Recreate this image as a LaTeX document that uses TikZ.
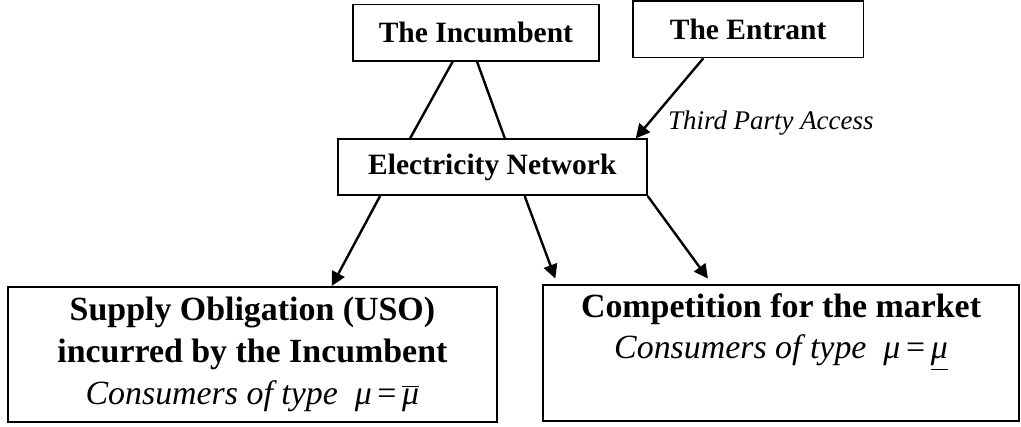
\documentclass[tikz,border=0pt]{standalone}
\usepackage{fontspec}
\setmainfont{Liberation Serif}
\usetikzlibrary{arrows.meta, positioning, calc}
\newcommand{\mutype}[1]{{\itshape μ}\,=\,#1}
\newcommand{\muhigh}{$\overline{\mbox{\itshape μ}}$}
\newcommand{\mulow}{\underline{\itshape μ}}
\tikzset{
  every picture/.style={line width=1.2pt},
  actor/.style={draw, line width=0.8pt, minimum height=0.99cm, inner sep=4pt, font=\fontsize{14.8}{17.8}\selectfont\bfseries},
  market/.style={draw, line width=1pt, minimum height=2.38cm, align=center, inner sep=4pt, font=\fontsize{17}{21}\selectfont},
  arrow/.style={-{Triangle[length=7pt, width=7pt]}, line width=1.2pt},
  link/.style={line width=1.2pt},
  note/.style={font=\fontsize{13.5}{16}\selectfont\itshape},
}

\begin{document}
\begin{tikzpicture}
  \useasboundingbox (0,0) rectangle (18,7.528);
  \node[actor, minimum width=4.34cm] (inc) at (8.39, 6.95) {The Incumbent};
  \node[actor, minimum width=4.06cm] (ent) at (13.19, 7.01) {The Entrant};
  \node[actor, minimum width=5.45cm] (net) at (8.68, 4.58) {Electricity Network};
  \node[note] (tpa) at (13.59, 5.36) {Third Party Access};
  \node[market, minimum width=8.62cm] (uso) at (4.45, 1.28) {\textbf{Supply Obligation (USO)}\\ \textbf{incurred by the Incumbent}\\ \textit{Consumers of type}\ \ \mutype{\muhigh}};
  \node[market, minimum width=8.39cm] (comp) at (13.77, 1.30) {\textbf{Competition for the market}\\ \textit{Consumers of type}\ \ \mutype{\mulow}\\ \strut};
  % incumbent owns the network
  \draw[link] ($(inc.south)+(-0.41,0)$) -- ($(net.north)+(-1.45,0)$);
  \draw[link] ($(inc.south)+(0.02,0)$) -- ($(net.north)+(0.22,0)$);
  \draw[arrow] ($(ent.south)+(-0.79,0)$) -- ($(net.north east)+(-0.21,0)$);
  % network to the two markets
  \draw[arrow] ($(net.south)+(-1.98,0)$) -- ($(uso.north)+(1.40,0)$);
  \draw[arrow] ($(net.south)+(0.57,0)$) -- ($(comp.north)+(-3.98,0.1)$);
  \draw[arrow] (net.south east) -- ($(comp.north)+(-1.29,0.1)$);
\end{tikzpicture}
\end{document}
